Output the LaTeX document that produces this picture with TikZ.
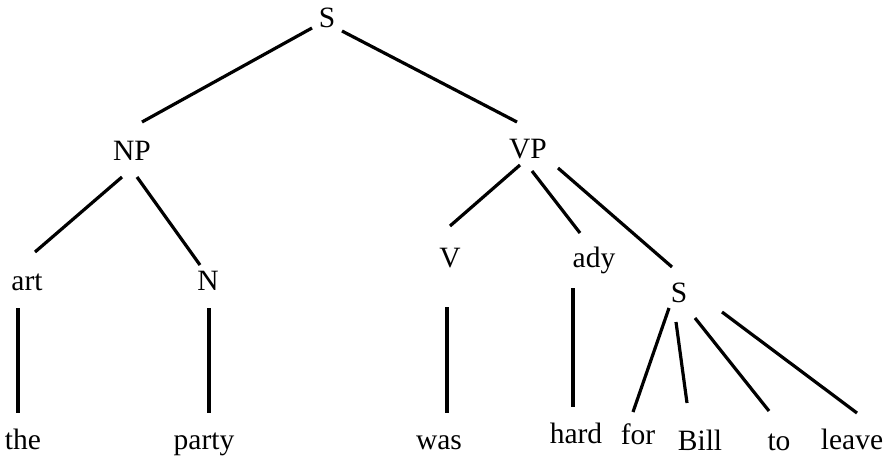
\documentclass[tikz,border=0pt]{standalone}
\usepackage{fontspec}
\setmainfont{Liberation Serif}
\usetikzlibrary{calc}
\begin{document}
\begin{tikzpicture}[x=1pt,y=-1pt,
  lbl/.style={anchor=base,inner sep=0pt,font=\fontsize{29.5}{30}\selectfont},
  branch/.style={line width=3.2pt,black}]
\useasboundingbox (0,0) rectangle (893,456);
% labels
\node[lbl] (s) at (327,27) {S};
\node[lbl] (np) at (132,160) {NP};
\node[lbl] (vp) at (528,158) {VP};
\node[lbl] (art) at (27,290) {art};
\node[lbl] (n) at (208,290) {N};
\node[lbl] (v) at (450,267) {V};
\node[lbl] (ady) at (594,267) {ady};
\node[lbl] (s2) at (679,302) {S};
\node[lbl] (the) at (23,449) {the};
\node[lbl] (party) at (204,449) {party};
\node[lbl] (was) at (439,449) {was};
\node[lbl] (hard) at (576,443) {hard};
\node[lbl] (for) at (638,444) {for};
\node[lbl] (bill) at (700,450) {Bill};
\node[lbl] (to) at (779,450) {to};
\node[lbl] (leave) at (852,449) {leave};
% branches
\draw[branch] ($(s.base)+(-15,1)$) -- ($(np.base)+(10,-38)$);
\draw[branch] ($(s.base)+(15,4)$) -- ($(vp.base)+(-11,-36)$);
\draw[branch] ($(np.base)+(-10,17)$) -- ($(art.base)+(8,-38)$);
\draw[branch] ($(np.base)+(5,17)$) -- ($(n.base)+(-8,-25)$);
\draw[branch] ($(art.base)+(-9,18)$) -- ($(the.base)+(-5,-36)$);
\draw[branch] ($(n.base)+(1,18)$) -- ($(party.base)+(5,-36)$);
\draw[branch] ($(vp.base)+(-8,7)$) -- ($(v.base)+(0,-41)$);
\draw[branch] ($(vp.base)+(4,13)$) -- ($(ady.base)+(-14,-34)$);
\draw[branch] ($(vp.base)+(30,10)$) -- ($(s2.base)+(-7,-35)$);
\draw[branch] ($(v.base)+(-3,40)$) -- ($(was.base)+(8,-36)$);
\draw[branch] ($(ady.base)+(-21,21)$) -- ($(hard.base)+(-3,-36)$);
\draw[branch] ($(s2.base)+(-10,6)$) -- ($(for.base)+(-5,-32)$);
\draw[branch] ($(s2.base)+(-3,20)$) -- ($(bill.base)+(-13,-47)$);
\draw[branch] ($(s2.base)+(16,16)$) -- ($(to.base)+(-10,-39)$);
\draw[branch] ($(s2.base)+(43,10)$) -- ($(leave.base)+(5,-36)$);
\end{tikzpicture}
\end{document}
